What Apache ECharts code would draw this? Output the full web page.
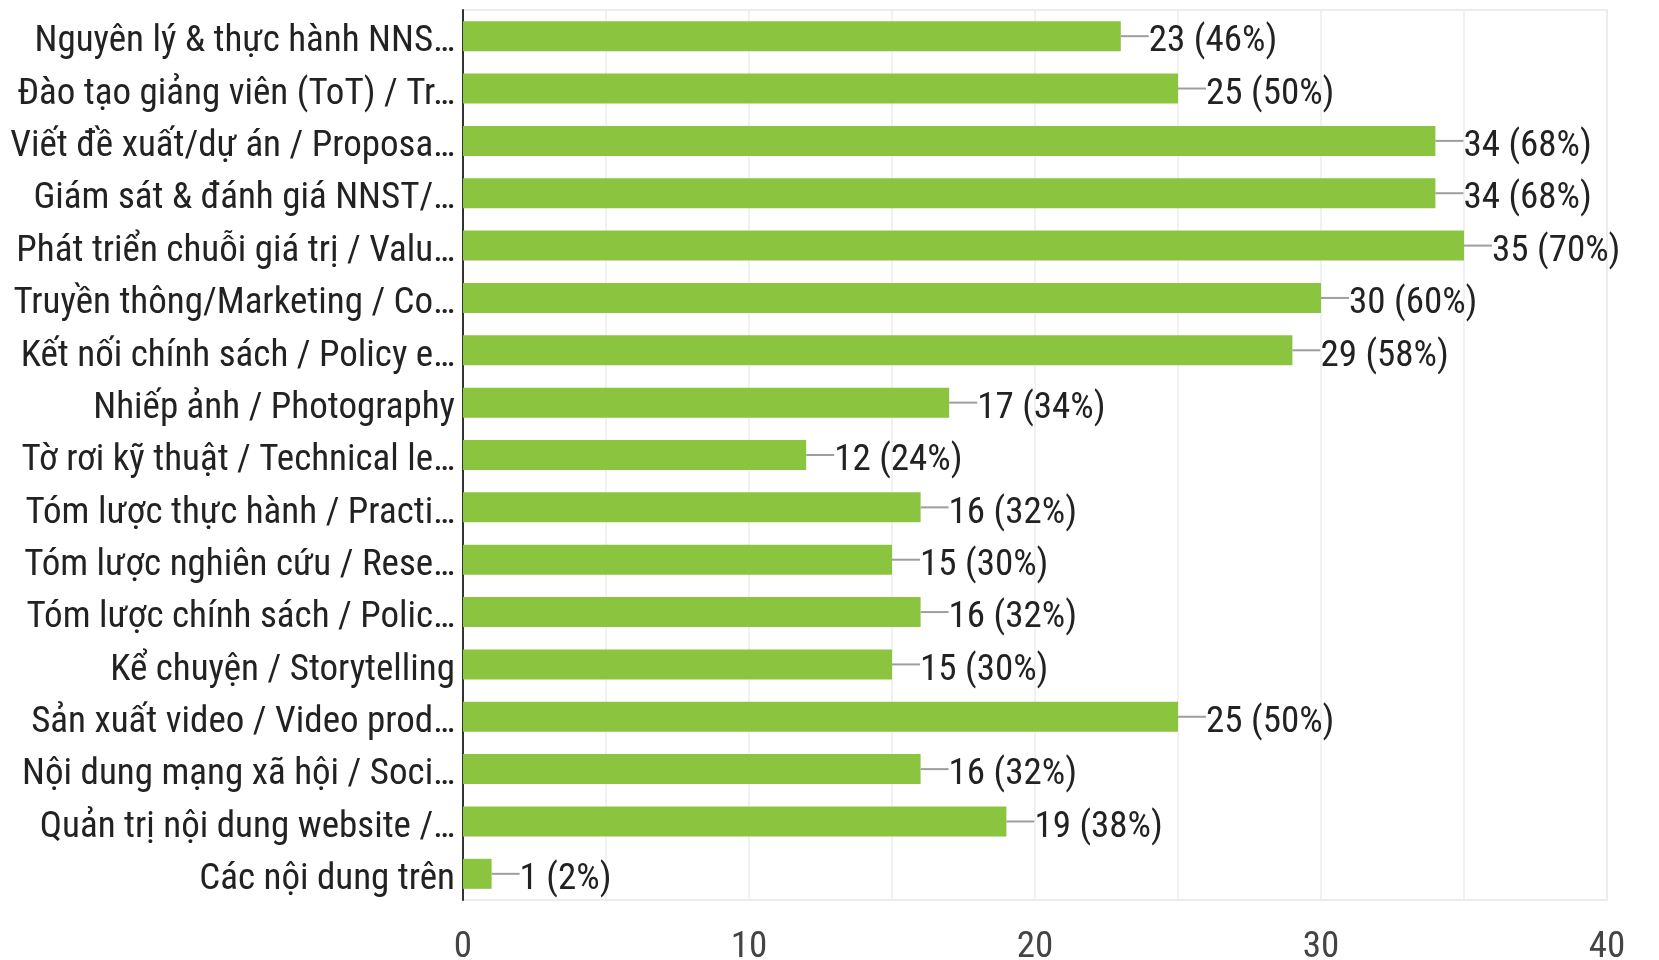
<!DOCTYPE html>
<html>
<head>
<meta charset="utf-8">
<script src="https://cdn.jsdelivr.net/npm/echarts@6/dist/echarts.min.js"></script>
<style>
html,body{margin:0;padding:0;background:#fff;}
#c{width:1659px;height:960px;}
</style>
</head>
<body>
<div id="c"></div>
<script>
const categories = [
  "Nguyên lý & thực hành NNS…",
  "Đào tạo giảng viên (ToT) / Tr…",
  "Viết đề xuất/dự án / Proposa…",
  "Giám sát & đánh giá NNST/…",
  "Phát triển chuỗi giá trị / Valu…",
  "Truyền thông/Marketing / Co…",
  "Kết nối chính sách / Policy e…",
  "Nhiếp ảnh / Photography",
  "Tờ rơi kỹ thuật / Technical le…",
  "Tóm lược thực hành / Practi…",
  "Tóm lược nghiên cứu / Rese…",
  "Tóm lược chính sách / Polic…",
  "Kể chuyện / Storytelling",
  "Sản xuất video / Video prod…",
  "Nội dung mạng xã hội / Soci…",
  "Quản trị nội dung website /…",
  "Các nội dung trên"
];
const counts = [23, 25, 34, 34, 35, 30, 29, 17, 12, 16, 15, 16, 15, 25, 16, 19, 1];
const percents = [46, 50, 68, 68, 70, 60, 58, 34, 24, 32, 30, 32, 30, 50, 32, 38, 2];
const xTicks = [0, 10, 20, 30, 40];

const FONT = "'Roboto Condensed', 'Liberation Sans Narrow', 'Arial Narrow', sans-serif";
const chart = echarts.init(document.getElementById('c'));
chart.setOption({
  animation: false,
  grid: {
    left: 463, right: 52, top: 10, bottom: 60,
    outerBoundsMode: 'none',
    show: true, borderColor: '#ececec', borderWidth: 2
  },
  xAxis: {
    type: 'value', min: 0, max: 40, interval: 5,
    axisLine: { show: false },
    axisTick: { show: false },
    splitLine: { lineStyle: { color: '#ececec', width: 1.5 } },
    axisLabel: {
      margin: 29,
      color: '#444',
      fontFamily: FONT,
      fontSize: 37,
      formatter: v => xTicks.includes(v) ? String(v) : ''
    }
  },
  yAxis: {
    type: 'category', data: categories, inverse: true,
    axisLine: { show: true, lineStyle: { color: '#333', width: 2 } },
    axisTick: { show: false },
    splitLine: { show: false },
    axisLabel: {
      margin: 8,
      formatter: v => '{a|' + v + '}',
      rich: {
        a: { color: '#222', fontFamily: FONT, fontSize: 37, padding: [12, 0, 0, 0] }
      }
    }
  },
  series: [{
    type: 'bar',
    data: counts,
    barWidth: 30,
    itemStyle: { color: '#8BC53F' },
    label: {
      show: true,
      position: 'right',
      distance: 0,
      formatter: p => '{l|}{t|' + counts[p.dataIndex] + ' (' + percents[p.dataIndex] + '%)}',
      rich: {
        l: { width: 28, height: 2, backgroundColor: '#9e9e9e' },
        t: { color: '#222', fontFamily: FONT, fontSize: 37, padding: [12, 0, 0, 0] }
      }
    }
  }]
});
</script>
</body>
</html>
